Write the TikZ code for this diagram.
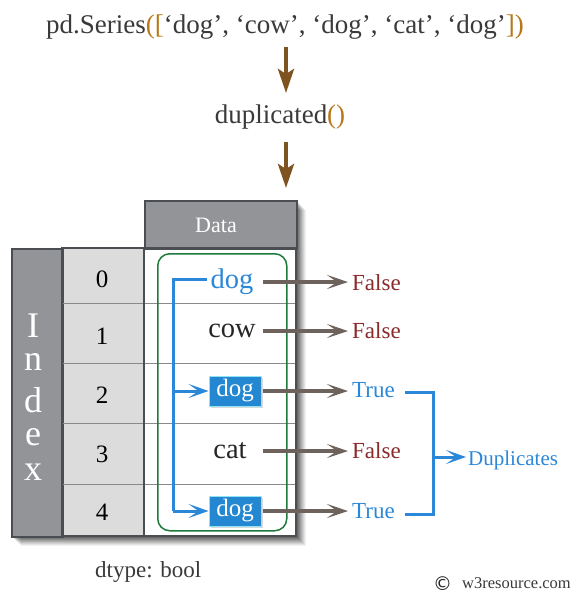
\documentclass[tikz,border=0pt]{standalone}
\usepackage{fontspec}
\setmainfont{Liberation Serif}
\usetikzlibrary{arrows.meta}
\definecolor{txt}{HTML}{3A3A3A}
\definecolor{brk}{HTML}{B8781A}
\definecolor{arrbrown}{HTML}{7F5320}
\definecolor{hdr}{HTML}{939498}
\definecolor{idxcol}{HTML}{DCDCDC}
\definecolor{blu}{HTML}{2B88D8}
\definecolor{boxblu}{HTML}{2487D2}
\definecolor{boxedge}{HTML}{8FE3F5}
\definecolor{grn}{HTML}{1E7A3C}
\definecolor{gry}{HTML}{6E635C}
\definecolor{fls}{HTML}{8B2A2A}
\definecolor{frame}{HTML}{4A4E52}
\definecolor{rowln}{HTML}{8A8A8A}
\tikzset{
  fs/.style={font=\fontsize{#1}{#1}\selectfont},
  bigarrow/.style={draw=arrbrown, line width=4pt, -{Stealth[length=24pt,width=16pt,inset=5pt]}},
  resarrow/.style={draw=gry, line width=3.2pt, -{Stealth[length=21pt,width=14pt,inset=10pt]}},
  bluline/.style={draw=blu, line width=3pt},
  bluarrow/.style={draw=blu, line width=3pt, -{Stealth[length=20pt,width=14pt,inset=10pt]}},
  dogbox/.style={fill=boxblu, draw=boxedge, line width=1pt, text=white, fs=25, minimum width=52pt, minimum height=30pt, inner sep=0pt},
  idxletter/.style={text=white, fs=36, anchor=base, inner sep=0pt},
  num/.style={text=black, fs=25, anchor=base},
  res/.style={fs=23, anchor=base west, inner sep=0pt},
}
\begin{document}
\begin{tikzpicture}[x=1pt,y=-1pt]
\useasboundingbox[fill=white] (0,0) rectangle (578,595);
% title
\node[fs=27, text=txt, anchor=base, inner sep=0pt] (title) at (285,33) {pd.Series\textcolor{brk}{([}‘dog’, ‘cow’, ‘dog’, ‘cat’, ‘dog’\textcolor{brk}{])}};
\node[fs=27, text=txt, anchor=base, inner sep=0pt] (dup) at (280,123) {duplicated\textcolor{brk}{()}};
\coordinate (a1s) at (286,47);
\coordinate (a1e) at (286,93);
\coordinate (a2s) at (286,142);
\coordinate (a2e) at (286,188);
\draw[bigarrow] (a1s) -- (a1e);
\draw[bigarrow] (a2s) -- (a2e);
% shadow
\foreach \o/\op in {10/0.05,9/0.06,8/0.07,7/0.08,6/0.09,5/0.10,4/0.11,3/0.12,2/0.12}{
  \fill[black, opacity=\op] (11+\o,248+\o) rectangle (296+\o,536+\o);
  \fill[black, opacity=\op] (144+\o,200+\o) rectangle (296+\o,248+\o);
}
% table
\fill[white] (144,248) rectangle (296,536);
\fill[idxcol] (62,248) rectangle (144,536);
\node[fill=hdr, draw=frame, line width=1.5pt, minimum width=152pt, minimum height=48pt, inner sep=0pt, anchor=north west] (hdr) at (144,200) {};
\node[text=white, fs=22, anchor=base] (datalbl) at (216,232) {Data};
\node[fill=hdr, draw=frame, line width=1.5pt, minimum width=51pt, minimum height=288pt, inner sep=0pt, anchor=north west] (idx) at (11,248) {};
\foreach \y in {303,363,423,484}{
  \draw[rowln, line width=1pt] (62,\y) -- (296,\y);
}
\draw[frame, line width=1.5pt] (62,248) rectangle (296,536);
\draw[frame, line width=1.5pt] (144,248) -- (144,536);
\node[idxletter] (iI) at (33,337) {I};
\node[idxletter] (in) at (33,370) {n};
\node[idxletter] (id) at (33,412) {d};
\node[idxletter] (ie) at (33,445) {e};
\node[idxletter] (ix) at (33,480) {x};
\node[num] (n0) at (102,287) {0};
\node[num] (n1) at (102,344) {1};
\node[num] (n2) at (102,403) {2};
\node[num] (n3) at (102,462) {3};
\node[num] (n4) at (102,520) {4};
% green box
\node[draw=grn, line width=1.5pt, rounded corners=12pt, minimum width=129pt, minimum height=277pt, inner sep=0pt, anchor=north west] (grnbox) at (157,253) {};
% data
\node[fs=28.5, text=blu, anchor=base, inner sep=0pt] (d0) at (232,288) {dog};
\node[fs=28.5, text=black!85, anchor=base, inner sep=0pt] (d1) at (232,337) {cow};
\fill[black, opacity=0.15] (211,378) rectangle (263,408);
\fill[black, opacity=0.15] (211,498) rectangle (263,528);
\node[dogbox] (d2) at (235,391) {dog};
\node[fs=28.5, text=black!85, anchor=base, inner sep=0pt] (d3) at (230,458) {cat};
\node[dogbox] (d4) at (235,511) {dog};
% blue bracket
\coordinate (bt) at (173,279);
\coordinate (b2) at (173,391);
\coordinate (b4) at (173,511);
\draw[bluline] (d0.west |- bt) ++(-3,0) -- (bt) -- (b4);
\draw[bluarrow] (b2) -- (d2.west);
\draw[bluarrow] (b4) -- (d4.west);
% results
\node[res, text=fls] (r0) at (352,290) {False};
\node[res, text=fls] (r1) at (352,338) {False};
\node[res, text=blu] (r2) at (352,397) {True};
\node[res, text=fls] (r3) at (352,458) {False};
\node[res, text=blu] (r4) at (352,518) {True};
\coordinate (s0) at (263,282);
\coordinate (s1) at (263,331);
\coordinate (s2) at (263,391);
\coordinate (s3) at (263,451);
\coordinate (s4) at (263,511);
\draw[resarrow] (s0) -- ([xshift=-4pt]s0 -| r0.west);
\draw[resarrow] (s1) -- ([xshift=-4pt]s1 -| r1.west);
\draw[resarrow] (s2) -- ([xshift=-4pt]s2 -| r2.west);
\draw[resarrow] (s3) -- ([xshift=-4pt]s3 -| r3.west);
\draw[resarrow] (s4) -- ([xshift=-4pt]s4 -| r4.west);
% right bracket
\node[fs=21, text=blu, anchor=base west, inner sep=0pt] (dupl) at (468,465) {Duplicates};
\coordinate (rb1) at (405,392);
\coordinate (rb2) at (433,392);
\coordinate (rb3) at (433,514);
\coordinate (rb4) at (405,514);
\coordinate (rbm) at (433,457);
\draw[bluline] (rb1) -- (rb2) -- (rb3) -- (rb4);
\draw[bluarrow] (rbm) -- ([xshift=-2pt]dupl.west |- rbm);
% footer
\node[fs=23, text=txt, anchor=base west, inner sep=0pt] (dtype) at (95,577) {dtype: bool};
\node[fs=19, text=black!85, anchor=base west, inner sep=0pt] (copy) at (433,590) {\fontspec{DejaVu Sans}©};
\node[fs=16.5, text=txt, anchor=base west, inner sep=0pt] (w3) at (462,588) {w3resource.com};
\end{tikzpicture}
\end{document}
